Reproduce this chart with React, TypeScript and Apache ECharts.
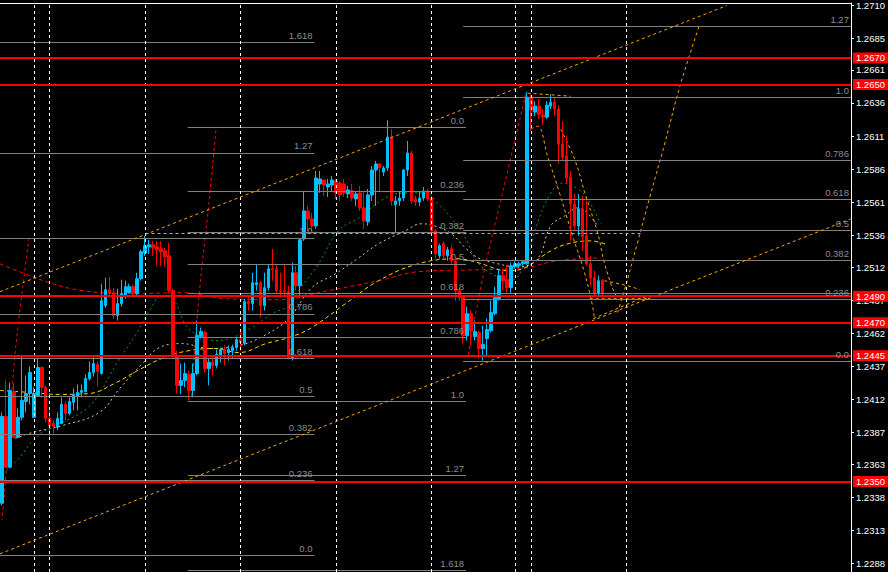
import React, { useEffect, useRef } from "react";
import * as echarts from "echarts";

// ---------- DATA ----------
// candles: [open, close, low, high], one per hourly bar, bar index = position
const candles: number[][] = [
  [1.23336, 1.23992, 1.23321, 1.24022], [1.23992, 1.23608, 1.236, 1.24263], [1.23608, 1.24188, 1.236, 1.24248],
  [1.2418, 1.23834, 1.23826, 1.24241], [1.23834, 1.23985, 1.23826, 1.24052], [1.23985, 1.24113, 1.23962, 1.24452],
  [1.24105, 1.24165, 1.24022, 1.24301], [1.24165, 1.24324, 1.24083, 1.24369], [1.23985, 1.24165, 1.23985, 1.24211],
  [1.2415, 1.24361, 1.2415, 1.24429], [1.24361, 1.24211, 1.24135, 1.24369], [1.24211, 1.23977, 1.23947, 1.24226],
  [1.23977, 1.23924, 1.23841, 1.24037], [1.23939, 1.23917, 1.23864, 1.23962], [1.23909, 1.23977, 1.23887, 1.24022],
  [1.23939, 1.24083, 1.23932, 1.24135], [1.24083, 1.24015, 1.23962, 1.24105], [1.24015, 1.24105, 1.24, 1.24135],
  [1.24098, 1.24158, 1.24037, 1.24203], [1.24143, 1.24173, 1.24037, 1.24233], [1.24173, 1.24188, 1.24135, 1.24233],
  [1.2418, 1.24278, 1.24173, 1.24308], [1.24278, 1.24324, 1.24263, 1.24407], [1.24324, 1.24391, 1.24293, 1.24437],
  [1.24384, 1.24331, 1.24218, 1.24407], [1.24316, 1.24866, 1.24308, 1.24994], [1.24829, 1.24949, 1.24813, 1.2504],
  [1.24949, 1.24919, 1.24896, 1.25047], [1.24927, 1.24753, 1.24731, 1.24964], [1.24753, 1.24844, 1.24716, 1.24957],
  [1.24844, 1.24919, 1.24821, 1.25025], [1.24904, 1.24972, 1.24881, 1.25017], [1.24927, 1.24972, 1.24919, 1.24994],
  [1.24972, 1.24919, 1.24896, 1.24987], [1.24919, 1.25032, 1.24904, 1.25077], [1.25032, 1.25236, 1.25017, 1.25251],
  [1.25228, 1.25281, 1.25205, 1.25356], [1.25273, 1.25288, 1.2522, 1.25326], [1.25288, 1.25266, 1.25205, 1.25318],
  [1.25273, 1.25251, 1.2513, 1.25318], [1.25258, 1.25236, 1.2513, 1.25318], [1.25243, 1.25198, 1.25122, 1.25266],
  [1.25205, 1.24942, 1.24927, 1.25303], [1.24942, 1.24452, 1.24444, 1.24957], [1.24452, 1.24226, 1.24165, 1.24489],
  [1.24226, 1.24263, 1.24158, 1.24391], [1.24263, 1.24316, 1.24211, 1.24399], [1.24308, 1.24188, 1.24113, 1.24339],
  [1.24188, 1.24316, 1.24135, 1.24391], [1.24316, 1.24602, 1.24301, 1.24716], [1.24595, 1.24633, 1.2458, 1.24663],
  [1.24625, 1.24354, 1.24324, 1.2464], [1.24354, 1.24399, 1.24226, 1.24429], [1.24399, 1.24376, 1.24301, 1.24452],
  [1.24376, 1.24459, 1.24354, 1.24497], [1.24452, 1.24497, 1.24399, 1.24512], [1.24497, 1.24467, 1.24376, 1.24527],
  [1.24474, 1.24497, 1.24414, 1.24527], [1.24489, 1.24512, 1.24429, 1.24535], [1.24512, 1.24572, 1.24489, 1.24587],
  [1.24572, 1.2455, 1.24489, 1.24633], [1.24542, 1.24859, 1.24527, 1.24881], [1.24859, 1.24844, 1.24791, 1.24904],
  [1.24844, 1.25002, 1.24791, 1.25077], [1.24987, 1.25002, 1.24942, 1.25138], [1.25002, 1.24829, 1.24738, 1.25017],
  [1.24829, 1.24964, 1.24791, 1.25077], [1.24964, 1.25107, 1.24942, 1.25138], [1.25107, 1.251, 1.25017, 1.25258],
  [1.25107, 1.24942, 1.24927, 1.25145], [1.24942, 1.24934, 1.24904, 1.25077], [1.24942, 1.24934, 1.24904, 1.25145],
  [1.24934, 1.24429, 1.24422, 1.24979], [1.24429, 1.25077, 1.24414, 1.25153], [1.25077, 1.24979, 1.24942, 1.2513],
  [1.24979, 1.25326, 1.24896, 1.25341], [1.25333, 1.25544, 1.25318, 1.25695], [1.25544, 1.25484, 1.25394, 1.25582],
  [1.25484, 1.25431, 1.25394, 1.25529], [1.25431, 1.25793, 1.25409, 1.25846], [1.25748, 1.25786, 1.2568, 1.25846],
  [1.25778, 1.2574, 1.25658, 1.25786], [1.25725, 1.25748, 1.2565, 1.25786], [1.2574, 1.25778, 1.25695, 1.25808],
  [1.25771, 1.2568, 1.25635, 1.25786], [1.25755, 1.25665, 1.2562, 1.25771], [1.25748, 1.2568, 1.2565, 1.25786],
  [1.25673, 1.25703, 1.25642, 1.25733], [1.25695, 1.25642, 1.2562, 1.25748], [1.25635, 1.25673, 1.25582, 1.25695],
  [1.2568, 1.25567, 1.25544, 1.25733], [1.25567, 1.25469, 1.25409, 1.25695], [1.25462, 1.25665, 1.25431, 1.2571],
  [1.25665, 1.25853, 1.2562, 1.25884], [1.25853, 1.25899, 1.25582, 1.25921], [1.25899, 1.25869, 1.25695, 1.25906],
  [1.25838, 1.25869, 1.25808, 1.25884], [1.25869, 1.26102, 1.25846, 1.2623], [1.26102, 1.2562, 1.25582, 1.26162],
  [1.2559, 1.2562, 1.25379, 1.25658], [1.2562, 1.25642, 1.25582, 1.25695], [1.25642, 1.25853, 1.2562, 1.25861],
  [1.25853, 1.25982, 1.25808, 1.26072], [1.25982, 1.2562, 1.25597, 1.25997], [1.25635, 1.25612, 1.25582, 1.25658],
  [1.25612, 1.25642, 1.25582, 1.25695], [1.25642, 1.25695, 1.2562, 1.25725], [1.25695, 1.25635, 1.2562, 1.2571],
  [1.25642, 1.25394, 1.25379, 1.25658], [1.25394, 1.2522, 1.2519, 1.25409], [1.25205, 1.25281, 1.25183, 1.25296],
  [1.25296, 1.25205, 1.25183, 1.25318], [1.25205, 1.25251, 1.25168, 1.25273], [1.25258, 1.25168, 1.25145, 1.25281],
  [1.25168, 1.24942, 1.24866, 1.25183], [1.24942, 1.24889, 1.24866, 1.24964], [1.24896, 1.24602, 1.24542, 1.24904],
  [1.24602, 1.24768, 1.24565, 1.24821], [1.24768, 1.2464, 1.24527, 1.24791], [1.24595, 1.24633, 1.24565, 1.24716],
  [1.24625, 1.24505, 1.24429, 1.2464], [1.24505, 1.24535, 1.24414, 1.24678], [1.2458, 1.24648, 1.24452, 1.24731],
  [1.2464, 1.24776, 1.24625, 1.24866], [1.24768, 1.24889, 1.24753, 1.24972], [1.24881, 1.25055, 1.24866, 1.25107],
  [1.25055, 1.25017, 1.24942, 1.25107], [1.25025, 1.24964, 1.24927, 1.25138], [1.24964, 1.2513, 1.24927, 1.25153],
  [1.25122, 1.25145, 1.25107, 1.25168], [1.2513, 1.25145, 1.25115, 1.2516], [1.25145, 1.2516, 1.2513, 1.25175],
  [1.25145, 1.26404, 1.25138, 1.26441], [1.26404, 1.26306, 1.26147, 1.26426], [1.26291, 1.26336, 1.2626, 1.26373],
  [1.26336, 1.26275, 1.26238, 1.26389], [1.26268, 1.26253, 1.26193, 1.26313], [1.26253, 1.26343, 1.26238, 1.26373],
  [1.26336, 1.26366, 1.26313, 1.26426], [1.26366, 1.26313, 1.2626, 1.26396], [1.26313, 1.26049, 1.25899, 1.26343],
  [1.26049, 1.25951, 1.25921, 1.26223], [1.25959, 1.25793, 1.25755, 1.2611], [1.25801, 1.25597, 1.25318, 1.25846],
  [1.25597, 1.25431, 1.25394, 1.25673], [1.25431, 1.2556, 1.25356, 1.25673], [1.2556, 1.25349, 1.25243, 1.25658],
  [1.25356, 1.25145, 1.2513, 1.2562], [1.25145, 1.2504, 1.24979, 1.25205], [1.2504, 1.24919, 1.24904, 1.25092],
  [1.24919, 1.25017, 1.24896, 1.25055], [1.25017, 1.24919, 1.24881, 1.25032],
];

// right price scale labels
const priceTicks = [1.2710, 1.2685, 1.2661, 1.2636, 1.2611, 1.2586, 1.2561, 1.2536, 1.2512, 1.2487,
  1.2462, 1.2437, 1.2412, 1.2387, 1.2363, 1.2338, 1.2313, 1.2288];
const priceRange = [1.228164, 1.271157];
const barRange = [-0.5, 213.5];

// horizontal support / resistance levels (red)
const redLevels = [1.2670, 1.2650, 1.2490, 1.2470, 1.2445, 1.2350];

// period separators / vertical lines (bar index)
const separators = [8, 12, 36, 60, 84, 108, 129, 133, 157];

// Fibonacci sets: bar range and [label, price]
const fibARange = [-0.5, 78.6];
const fibALevels: [string, number][] = [["1.618", 1.26816], ["1.27", 1.25982], ["1.0", 1.25341], ["0.786", 1.24766],
  ["0.618", 1.24429], ["0.5", 1.24143], ["0.382", 1.23856], ["0.236", 1.2351], ["0.0", 1.22944]];
const fibBRange = [46.7, 116.7];
const fibBLevels: [string, number][] = [["0.0", 1.26177], ["0.236", 1.2569], ["0.382", 1.25381], ["0.5", 1.25145],
  ["0.618", 1.24921], ["0.786", 1.2459], ["1.0", 1.24105], ["1.27", 1.23547], ["1.618", 1.22826]];
const fibCRange = [116.0, 213.5];
const fibCLevels: [string, number][] = [["1.27", 1.26936], ["1.0", 1.26401], ["0.786", 1.25926], ["0.618", 1.25633],
  ["0.5", 1.25399], ["0.382", 1.25168], ["", 1.24923], ["0.236", 1.24874], ["0.0", 1.24407]];

// trend channel and horizontal dashed (orange), as [bar, price] pairs
const channelUpper = [[-0.5, 1.24934], [182.3, 1.27096]];
const channelLower = [[-0.5, 1.22954], [213.4, 1.25483]];
const neckLine = [[36.1, 1.25379], [161.0, 1.25379]];

// moving averages read at sampled bars: [bar, price]
const yellowMA = [[-0.5, 1.24188], [7.0, 1.24173], [14.5, 1.24158], [22.0, 1.24165], [28.3, 1.24241], [34.6, 1.24346],
  [40.8, 1.24437], [47.1, 1.24489], [53.3, 1.24505], [59.6, 1.24474], [66.4, 1.24542], [72.9, 1.24595], [77.9, 1.24663],
  [86.4, 1.24844], [94.7, 1.25017], [104.7, 1.25145], [114.7, 1.25183], [119.7, 1.25153], [127.2, 1.25092],
  [131.5, 1.25115], [138.0, 1.25243], [142.3, 1.25296], [148.0, 1.25318], [152.3, 1.25288]];
const khakiMA = [[3.3, 1.23826], [7.8, 1.23871], [15.3, 1.23924], [24.5, 1.24022], [29.6, 1.24203], [35.3, 1.24391],
  [39.6, 1.24512], [45.3, 1.24542], [52.1, 1.24505], [59.6, 1.24527], [65.9, 1.24602], [72.1, 1.24731], [77.9, 1.24964],
  [83.9, 1.2507], [89.7, 1.2519], [94.7, 1.25296], [101.4, 1.25394], [105.4, 1.25447], [108.9, 1.25431], [113.0, 1.25371],
  [116.5, 1.25266], [119.7, 1.2519], [124.7, 1.25145], [129.7, 1.25122], [134.7, 1.25183], [138.0, 1.25431],
  [141.5, 1.25507], [144.8, 1.25567], [149.8, 1.25431]];
const greenMA = [[0.25, 1.23563], [4.5, 1.23683], [7.8, 1.23811], [12.0, 1.23909], [16.3, 1.23962], [21.3, 1.24052],
  [24.5, 1.24165], [28.8, 1.24391], [33.8, 1.24618], [37.1, 1.24791], [40.3, 1.24904], [43.3, 1.24866], [46.3, 1.24678],
  [49.6, 1.24602], [53.8, 1.24565], [57.9, 1.24587], [62.9, 1.24663], [67.9, 1.24768], [72.1, 1.24829], [74.6, 1.24942],
  [79.6, 1.25145], [84.6, 1.25394], [89.7, 1.25492], [96.4, 1.25642], [101.4, 1.2568], [106.4, 1.2568], [109.7, 1.25597],
  [113.0, 1.25492], [116.5, 1.25341], [119.7, 1.25153], [124.0, 1.25055], [128.0, 1.25017], [131.5, 1.25153],
  [134.7, 1.25454], [138.0, 1.2568], [141.0, 1.25755], [144.8, 1.2571], [147.3, 1.25635], [150.5, 1.25447]];
const redMA = [[-0.5, 1.25145], [3.8, 1.25092], [12.0, 1.25002], [20.3, 1.24942], [32.8, 1.24919], [45.3, 1.24927],
  [56.4, 1.24881], [69.5, 1.24874], [82.1, 1.24942], [94.7, 1.25017], [104.7, 1.25085], [119.7, 1.251],
  [131.5, 1.25115], [139.7, 1.25168], [150.5, 1.2519]];

// steep red dashed swings
const redSwing1 = [[6.8, 1.25341], [3.3, 1.24467], [0.75, 1.23457], [0.0, 1.23208]];
const redSwing2 = [[53.8, 1.26155], [52.1, 1.2562], [50.1, 1.2507], [48.8, 1.2464], [47.6, 1.24128]];
const redSwing3 = [[131.7, 1.26426], [126.0, 1.25695], [121.0, 1.25055], [117.2, 1.24452]];

// orange dashed projection curves
const orangeC1 = [[133.0, 1.26162], [134.7, 1.26185], [137.2, 1.25959], [140.2, 1.2568], [143.5, 1.25356],
  [146.5, 1.25077], [148.5, 1.24829], [149.0, 1.24731]];
const orangeC2 = [[140.5, 1.26162], [144.0, 1.25936], [146.8, 1.25658], [149.8, 1.25379], [151.5, 1.25153],
  [154.0, 1.24927], [155.3, 1.24881]];
const orangeC3 = [[151.5, 1.25017], [157.3, 1.24979], [160.5, 1.24949]];
const orangeC4 = [[154.8, 1.24776], [156.5, 1.24942], [159.8, 1.25303], [163.0, 1.25658], [166.5, 1.26034],
  [170.5, 1.26487], [175.3, 1.26939]];
const orangeTop = [[132.2, 1.26434], [143.0, 1.26411]];
const orangeBottom = [[147.8, 1.24881], [163.0, 1.24881]];
const orangeLow = [[148.7, 1.24731], [161.8, 1.24896]];

// ---------- STYLE ----------
const FONT = "'Liberation Sans', Arial, sans-serif";
const ORANGE = "#ffa500";

function fibData(range: number[], levels: [string, number][]) {
  return levels.map(([name, p]) => [
    { coord: [range[0], p], name },
    { coord: [range[1], p] },
  ]);
}

function pathSeries(data: number[][], color: string, dash: number[], smooth: number | boolean = false) {
  return {
    type: "line",
    data,
    symbol: "none",
    smooth,
    silent: true,
    z: 3,
    lineStyle: { color, width: 1, type: dash },
  };
}

export default function App() {
  const ref = useRef<HTMLDivElement>(null);

  useEffect(() => {
    document.body.style.margin = "0";
    document.body.style.background = "#000";
    if (!ref.current) return;
    const chart = echarts.init(ref.current, undefined, { renderer: "svg" });

    const lastClose = candles[candles.length - 1][1];

    const option: any = {
      animation: false,
      backgroundColor: "#000",
      grid: { left: 0, right: 33.5, top: 1.5, bottom: 0 },
      xAxis: {
        type: "value",
        min: barRange[0],
        max: barRange[1],
        position: "top",
        axisLine: { show: true, lineStyle: { color: "#ffffff", width: 1 } },
        axisTick: { show: false },
        axisLabel: { show: false },
        splitLine: { show: false },
      },
      yAxis: {
        type: "value",
        position: "right",
        min: priceRange[0],
        max: priceRange[1],
        axisLine: { show: true, onZero: false, lineStyle: { color: "#ffffff", width: 1 } },
        axisTick: { show: true, customValues: priceTicks, length: 3, lineStyle: { color: "#ffffff" } },
        axisLabel: {
          customValues: priceTicks,
          formatter: (v: number) => v.toFixed(4),
          color: "#ffffff",
          fontSize: 9.5,
          fontFamily: FONT,
          margin: 5,
        },
        splitLine: { show: false },
      },
      series: [
        {
          type: "line",
          data: [],
          silent: true,
          markLine: {
            silent: true,
            precision: 5,
            symbol: ["none", "none"],
            lineStyle: { color: "#808080", width: 1, type: "solid" },
            label: {
              show: true,
              position: "insideEndTop",
              formatter: "{b}",
              color: "#8c8c8c",
              fontSize: 9.5,
              fontFamily: FONT,
              distance: 2,
            },
            data: [
              ...fibData(fibARange, fibALevels),
              ...fibData(fibBRange, fibBLevels),
              ...fibData(fibCRange, fibCLevels),
            ],
          },
        },
        {
          type: "line",
          data: [],
          silent: true,
          markLine: {
            silent: true,
            precision: 5,
            symbol: ["none", "none"],
            label: { show: false },
            lineStyle: { color: "#ffffff", width: 1, type: [3, 3] },
            data: separators.map((b) => ({ xAxis: b })),
          },
        },
        {
          type: "line",
          data: [],
          silent: true,
          markLine: {
            silent: true,
            precision: 5,
            symbol: ["none", "none"],
            label: { show: false },
            lineStyle: { color: ORANGE, width: 1, type: [3, 3] },
            data: [channelUpper, channelLower, neckLine].map((seg) => [
              { coord: seg[0] },
              { coord: seg[1] },
            ]),
          },
        },
        pathSeries(redMA, "#ff0000", [4, 3], 0.4),
        pathSeries(greenMA, "#00a000", [2, 3], 0.4),
        pathSeries(khakiMA, "#d8d08c", [2, 3], 0.4),
        pathSeries(yellowMA, "#ffd700", [4, 3], 0.4),
        pathSeries(redSwing1, "#ff0000", [3, 3], 0.3),
        pathSeries(redSwing2, "#ff0000", [3, 3], 0.3),
        pathSeries(redSwing3, "#ff0000", [3, 3], 0.3),
        pathSeries(orangeC1, ORANGE, [3, 3], 0.4),
        pathSeries(orangeC2, ORANGE, [3, 3], 0.4),
        pathSeries(orangeC3, ORANGE, [3, 3], 0.4),
        pathSeries(orangeC4, ORANGE, [3, 3], 0.4),
        pathSeries(orangeTop, ORANGE, [3, 3]),
        pathSeries(orangeBottom, ORANGE, [3, 3]),
        pathSeries(orangeLow, ORANGE, [3, 3]),
        {
          type: "candlestick",
          data: candles.map((c, i) => [i, c[0], c[1], c[2], c[3]]),
          encode: { x: 0, y: [1, 2, 3, 4] },
          barWidth: 3,
          silent: true,
          z: 4,
          itemStyle: {
            color: "#00bfff",
            color0: "#ff0000",
            borderColor: "#00bfff",
            borderColor0: "#ff0000",
            borderWidth: 1,
          },
        },
        {
          type: "line",
          data: [],
          silent: true,
          markLine: {
            silent: true,
            precision: 5,
            symbol: ["none", "none"],
            lineStyle: { opacity: 0 },
            label: {
              show: true,
              position: "end",
              formatter: (p: any) => Number(p.value).toFixed(4),
              backgroundColor: "#ffffff",
              color: "#000000",
              fontSize: 9.5,
              fontFamily: FONT,
              padding: [1, 3, 0, 3],
              distance: 2,
            },
            data: [{ yAxis: lastClose }],
          },
        },
        {
          type: "line",
          data: [],
          silent: true,
          markLine: {
            silent: true,
            precision: 5,
            symbol: ["none", "none"],
            lineStyle: { color: "#ff0000", width: 2, type: "solid" },
            label: {
              show: true,
              position: "end",
              formatter: (p: any) => Number(p.value).toFixed(4),
              backgroundColor: "#ff0000",
              color: "#ffffff",
              fontSize: 9.5,
              fontFamily: FONT,
              padding: [1, 3, 0, 3],
              distance: 2,
            },
            data: redLevels.map((v) => ({ yAxis: v })),
          },
        },
      ],
    };

    chart.setOption(option);
    return () => chart.dispose();
  }, []);

  return (
    <div
      ref={ref}
      style={{ position: "absolute", left: 0, top: 0, width: 888, height: 572, background: "#000" }}
    />
  );
}
